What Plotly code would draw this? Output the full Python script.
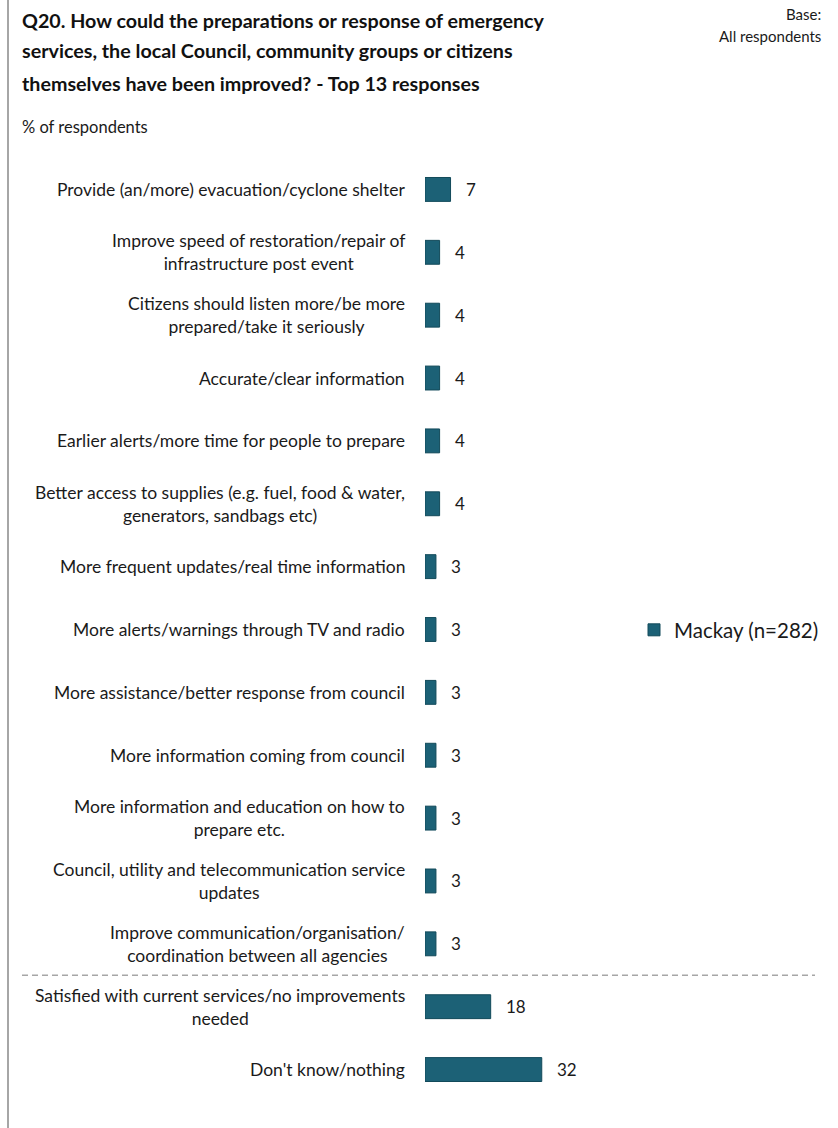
import plotly.graph_objects as go

# Survey responses (% of respondents), top to bottom
categories = [
    "Provide (an/more) evacuation/cyclone shelter",
    "Improve speed of restoration/repair of<br>infrastructure post event",
    "Citizens should listen more/be more<br>prepared/take it seriously",
    "Accurate/clear information",
    "Earlier alerts/more time for people to prepare",
    "Better access to supplies (e.g. fuel, food & water,<br>generators, sandbags etc)",
    "More frequent updates/real time information",
    "More alerts/warnings through TV and radio",
    "More assistance/better response from council",
    "More information coming from council",
    "More information and education on how to<br>prepare etc.",
    "Council, utility and telecommunication service<br>updates",
    "Improve communication/organisation/<br>coordination between all agencies",
    "Satisfied with current services/no improvements<br>needed",
    "Don't know/nothing",
]
values = [7, 4, 4, 4, 4, 4, 3, 3, 3, 3, 3, 3, 3, 18, 32]
series_name = "Mackay (n=282)"

title_lines = [
    "Q20. How could the preparations or response of emergency",
    "services, the local Council, community groups or citizens",
    "themselves have been improved? - Top 13 responses",
]

W, H = 838, 1128
ML, MR, MT, MB = 425, 16, 158, 27
PW, PH = W - ML - MR, H - MT - MB

FONT = "Lato"
BAR = "#1c6176"
TXT = "#1a1a1a"

fig = go.Figure()
fig.add_trace(go.Bar(
    y=categories, x=values, orientation="h", name=series_name,
    marker=dict(color=BAR, line=dict(color="#124a5a", width=1)),
    showlegend=True, hoverinfo="skip",
))

ann = []
# category labels, centred lines, right edge just left of the bars
for c in categories:
    ann.append(dict(x=0, xref="paper", y=c, yref="y", text=c, showarrow=False,
                    xanchor="right", yanchor="middle", align="center", xshift=-18,
                    font=dict(family=FONT, size=17.5, color=TXT)))
# value labels
for c, v in zip(categories, values):
    ann.append(dict(x=v, xref="x", y=c, yref="y", text=str(v), showarrow=False,
                    xanchor="left", yanchor="middle", xshift=13,
                    font=dict(family=FONT, size=17, color=TXT)))

def px_x(p):
    return (p - ML) / PW

def px_y(p):
    return (H - MB - p) / PH

for line, yp in zip(title_lines, [20, 51, 83]):
    ann.append(dict(x=px_x(20), xref="paper", y=px_y(yp), yref="paper", text="<b>%s</b>" % line,
                    showarrow=False, xanchor="left", yanchor="middle",
                    font=dict(family=FONT, size=19.7, color="#111111")))
ann.append(dict(x=px_x(823), xref="paper", y=px_y(14), yref="paper", text="Base:",
                showarrow=False, xanchor="right", yanchor="middle",
                font=dict(family=FONT, size=15, color=TXT)))
ann.append(dict(x=px_x(823), xref="paper", y=px_y(36), yref="paper", text="All respondents",
                showarrow=False, xanchor="right", yanchor="middle",
                font=dict(family=FONT, size=15, color=TXT)))
ann.append(dict(x=px_x(20), xref="paper", y=px_y(127), yref="paper", text="% of respondents",
                showarrow=False, xanchor="left", yanchor="middle",
                font=dict(family=FONT, size=16.5, color=TXT)))

shapes = [
    # frame line on the left edge
    dict(type="line", xref="paper", yref="paper", x0=px_x(8), x1=px_x(8),
         y0=px_y(0), y1=px_y(H), line=dict(color="#a6a6a6", width=2)),
    # separator before the non-improvement answers
    dict(type="line", xref="paper", yref="y", x0=px_x(22), x1=px_x(815),
         y0=12.5, y1=12.5, line=dict(color="#a6a6a6", width=1.5, dash="6px,4px")),
]

fig.update_layout(
    width=W, height=H,
    margin=dict(l=ML, r=MR, t=MT, b=MB),
    paper_bgcolor="white", plot_bgcolor="white",
    bargap=0.62,
    xaxis=dict(range=[0, 108.8], visible=False, fixedrange=True),
    yaxis=dict(autorange="reversed", showticklabels=False, showgrid=False,
               zeroline=False, showline=False, ticks="", fixedrange=True),
    annotations=ann, shapes=shapes,
    legend=dict(x=px_x(634), y=px_y(630), xanchor="left", yanchor="middle",
                font=dict(family=FONT, size=20.5, color=TXT), itemwidth=30,
                bgcolor="rgba(0,0,0,0)", borderwidth=0),
    font=dict(family=FONT, color=TXT),
)

fig.write_html("out.html")
